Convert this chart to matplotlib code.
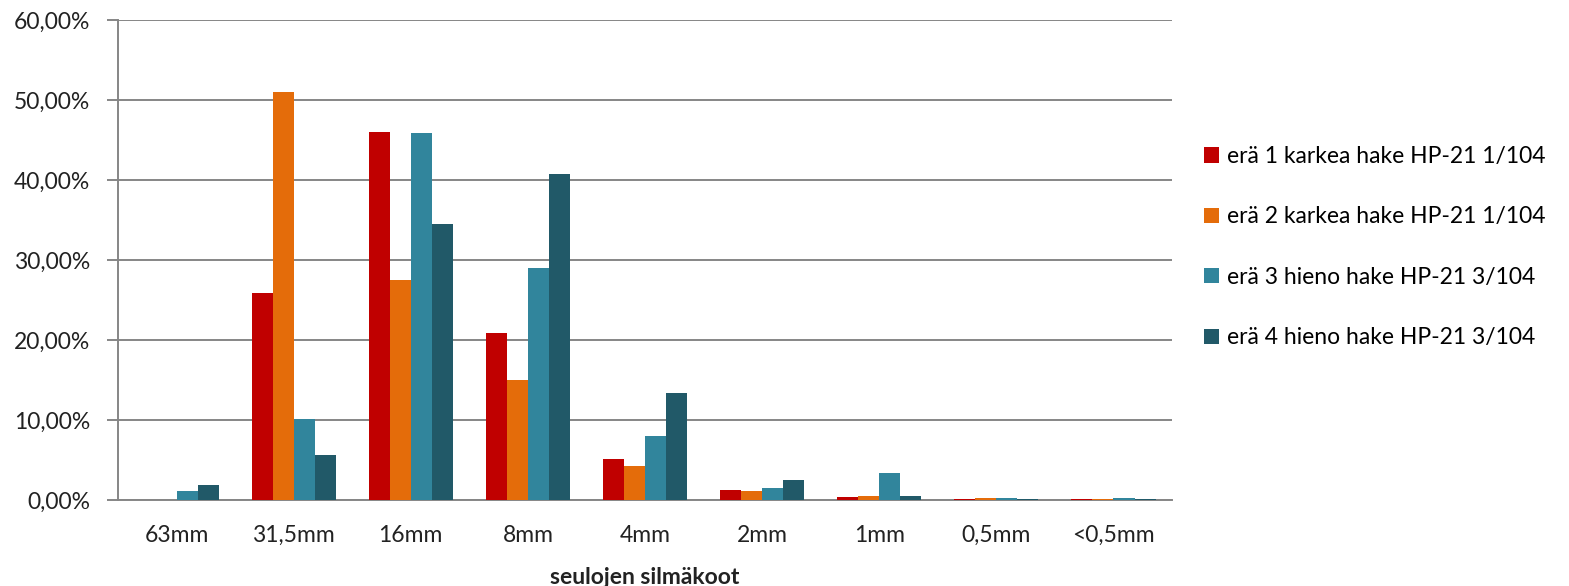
import numpy as np
import matplotlib.pyplot as plt
from matplotlib.patches import Patch
from matplotlib.ticker import FuncFormatter, MultipleLocator

plt.rcParams['font.family'] = ['Lato', 'DejaVu Sans']

categories = ['63mm', '31,5mm', '16mm', '8mm', '4mm', '2mm', '1mm', '0,5mm', '<0,5mm']
series_names = [
    'erä 1 karkea hake HP-21 1/104',
    'erä 2 karkea hake HP-21 1/104',
    'erä 3 hieno hake HP-21 3/104',
    'erä 4 hieno hake HP-21 3/104',
]
era1 = [0.0, 25.9, 46.0, 20.9, 5.1, 1.2, 0.37, 0.15, 0.10]
era2 = [0.0, 51.0, 27.5, 15.0, 4.25, 1.1, 0.5, 0.2, 0.15]
era3 = [1.1, 10.1, 45.9, 29.0, 8.0, 1.55, 3.4, 0.25, 0.25]
era4 = [1.9, 5.6, 34.5, 40.8, 13.4, 2.5, 0.55, 0.1, 0.08]
colors = ['#C00000', '#E46C0A', '#31859C', '#215968']

fig = plt.figure(figsize=(15.69, 5.86), dpi=100)
ax = fig.add_axes([118 / 1569, 86 / 586, (1172 - 118) / 1569, 480 / 586])

x = np.arange(len(categories))
width = 0.18
for i, (vals, c) in enumerate(zip([era1, era2, era3, era4], colors)):
    ax.bar(x + (i - 1.5) * width, vals, width, color=c, zorder=3)

ax.set_xlim(-0.5, len(categories) - 0.5)
ax.set_ylim(0, 60)
ax.yaxis.set_major_locator(MultipleLocator(10))
ax.yaxis.set_major_formatter(FuncFormatter(lambda v, p: f'{v:.2f}'.replace('.', ',') + '%'))
ax.grid(axis='y', color='#868686', linewidth=1.4, zorder=0)

ax.set_xticks(x)
ax.set_xticklabels(categories)
ax.tick_params(axis='x', length=0, pad=18, labelsize=16.5, colors='#222222')
ax.tick_params(axis='y', length=8, width=1.4, color='#868686', pad=12, labelsize=16.5, labelcolor='#222222')

for s in ['top', 'right']:
    ax.spines[s].set_visible(False)
for s in ['left', 'bottom']:
    ax.spines[s].set_color('#868686')
    ax.spines[s].set_linewidth(1.4)

ax.set_xlabel('seulojen silmäkoot', fontsize=16.5, fontweight='bold', labelpad=15, color='#222222')

handles = [Patch(facecolor=c) for c in colors]
fig.legend(handles, series_names, loc='upper left', bbox_to_anchor=(1204 / 1569, 1 - 146 / 586),
           frameon=False, fontsize=16.5, handlelength=0.65, handleheight=0.65,
           handletextpad=0.35, labelspacing=1.72, borderaxespad=0, borderpad=0)

fig.savefig('out.png', dpi=100)
